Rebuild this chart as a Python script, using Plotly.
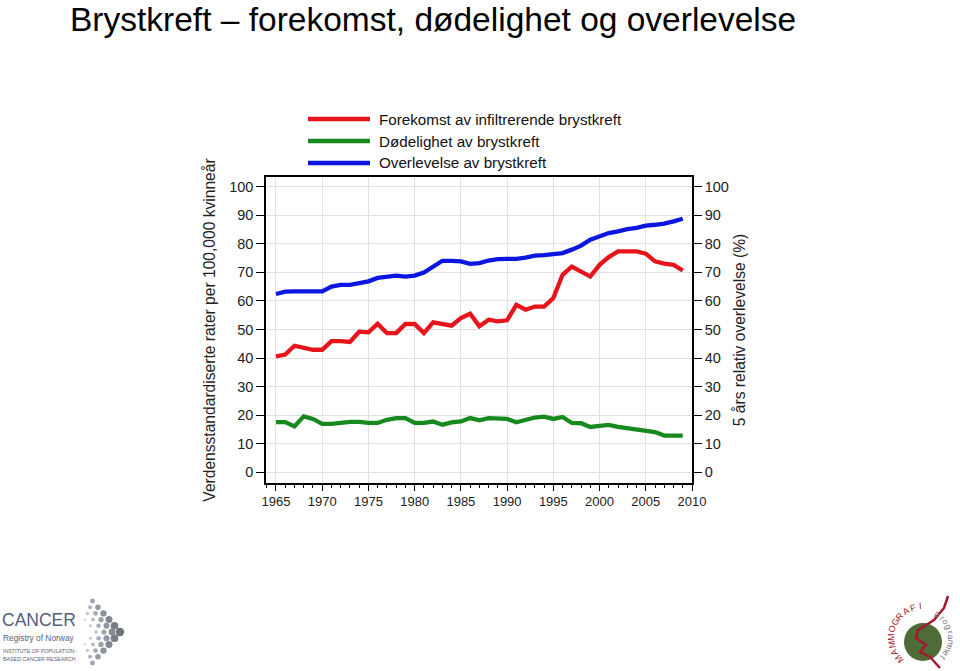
import math
import plotly.graph_objects as go

# ---------------- data ----------------
years = list(range(1965, 2010))

incidence = [40.6, 41.2, 44.3, 43.5, 42.9, 42.9, 45.9, 45.9, 45.6, 49.2,
             49.0, 52.0, 48.7, 48.7, 51.9, 51.9, 48.7, 52.5, 52.0, 51.3,
             54.0, 55.5, 51.1, 53.4, 52.8, 53.2, 58.6, 56.9, 58.0, 58.0,
             61.0, 69.1, 72.0, 70.3, 68.5, 72.6, 75.3, 77.3, 77.3, 77.3,
             76.5, 73.8, 73.0, 72.6, 70.6]

mortality = [17.6, 17.6, 16.1, 19.6, 18.7, 17.0, 17.0, 17.5, 17.7, 17.7,
             17.3, 17.3, 18.4, 19.0, 19.0, 17.3, 17.3, 17.8, 16.7, 17.5,
             17.8, 19.0, 18.2, 19.0, 18.7, 18.7, 17.5, 18.4, 19.2, 19.5,
             18.7, 19.4, 17.3, 17.2, 15.9, 16.3, 16.6, 15.9, 15.5, 15.2,
             14.5, 14.1, 12.9, 12.9, 12.9]

survival = [62.4, 63.2, 63.3, 63.3, 63.3, 63.3, 65.0, 65.6, 65.6, 66.2,
            66.8, 68.0, 68.3, 68.8, 68.5, 68.8, 69.9, 72.0, 74.0, 74.0,
            73.8, 72.9, 73.2, 74.1, 74.6, 74.7, 74.7, 75.1, 75.8, 76.0,
            76.5, 76.7, 77.9, 79.3, 81.4, 82.5, 83.7, 84.3, 85.1, 85.5,
            86.3, 86.6, 87.0, 87.8, 88.7]

series_names = ["Forekomst av infiltrerende brystkreft",
                "Dødelighet av brystkreft",
                "Overlevelse av brystkreft"]
series_colors = ["#e8141b", "#17891f", "#0b17e0"]

x_ticks = list(range(1965, 2011, 5))
y_ticks = list(range(0, 101, 10))

title_text = "Brystkreft – forekomst, dødelighet og overlevelse"
left_title = "Verdensstandardiserte rater per 100,000 kvinneår"
right_title = "5 års relativ overlevelse (%)"

# ---------------- geometry helpers ----------------
W, H = 960, 671
L, R, T, B = 266, 692, 177, 483  # plot area in pixels


def px(X):
    return (X - L) / (R - L)


def py(Y):
    return (B - Y) / (B - T)


FONT = "Liberation Sans, Arial, Helvetica, sans-serif"

fig = go.Figure()

fig.add_trace(go.Scatter(x=years, y=incidence, mode="lines", name=series_names[0],
                         line=dict(color=series_colors[0], width=4.3), yaxis="y"))
fig.add_trace(go.Scatter(x=years, y=mortality, mode="lines", name=series_names[1],
                         line=dict(color=series_colors[1], width=4.3), yaxis="y"))
fig.add_trace(go.Scatter(x=years, y=survival, mode="lines", name=series_names[2],
                         line=dict(color=series_colors[2], width=4.3), yaxis="y2"))

yrange = [-3.7, 103.3]
grid = "#e0e0e0"

fig.update_layout(
    width=W, height=H,
    margin=dict(l=L, r=W - R, t=T, b=H - B, pad=0),
    paper_bgcolor="white", plot_bgcolor="white",
    showlegend=False,
    font=dict(family=FONT, color="#222222"),
    xaxis=dict(range=[1963.92, 2010], tickmode="array", tickvals=x_ticks,
               ticks="outside", ticklen=6, tickwidth=1, tickcolor="black",
               showline=True, linecolor="black", linewidth=1.5, mirror=True,
               showgrid=True, gridcolor=grid, gridwidth=1, zeroline=False,
               tickfont=dict(size=13, color="#222"),
               minor=dict(tick0=1965, dtick=1, ticks="outside", ticklen=3,
                          tickcolor="black", showgrid=False)),
    yaxis=dict(range=yrange, tickmode="array", tickvals=y_ticks,
               ticks="outside", ticklen=8, tickcolor="black",
               showline=True, linecolor="black", linewidth=1.5,
               showgrid=True, gridcolor=grid, gridwidth=1, zeroline=False,
               tickfont=dict(size=14.5, color="#222"),
               title=dict(text=left_title, font=dict(size=15.6, color="#222"), standoff=10)),
    yaxis2=dict(range=yrange, overlaying="y", side="right", tickmode="array",
                tickvals=y_ticks, ticks="outside", ticklen=8, tickcolor="black",
                showline=True, linecolor="black", linewidth=1.5,
                showgrid=False, zeroline=False,
                tickfont=dict(size=14.5, color="#222"),
                title=dict(text=right_title, font=dict(size=15.6, color="#222"), standoff=6)),
)

shapes = []
annotations = []

# title
annotations.append(dict(text=title_text, xref="paper", yref="paper",
                        x=px(68), y=py(19), xanchor="left", yanchor="middle",
                        showarrow=False, font=dict(size=33.5, color="black", family=FONT)))

# legend (drawn manually to match the long line glyphs)
legend_rows = [119, 141, 163]
for name, col, yy in zip(series_names, series_colors, legend_rows):
    shapes.append(dict(type="line", xref="paper", yref="paper",
                       x0=px(308), x1=px(370), y0=py(yy), y1=py(yy),
                       line=dict(color=col, width=4.3)))
    annotations.append(dict(text=name, xref="paper", yref="paper",
                            x=px(377), y=py(yy), xanchor="left", yanchor="middle",
                            showarrow=False, font=dict(size=15.2, color="#111", family=FONT)))

# ---------------- logos (decorative) ----------------
logo_col = "#56607a"
annotations.append(dict(text="CANCER", xref="paper", yref="paper", x=px(0), y=py(620),
                        xanchor="left", yanchor="middle", showarrow=False,
                        font=dict(size=17.5, color=logo_col, family=FONT)))
annotations.append(dict(text="Registry of Norway", xref="paper", yref="paper", x=px(1), y=py(638),
                        xanchor="left", yanchor="middle", showarrow=False,
                        font=dict(size=8.4, color=logo_col, family=FONT)))
annotations.append(dict(text="INSTITUTE OF POPULATION-", xref="paper", yref="paper", x=px(1), y=py(651),
                        xanchor="left", yanchor="middle", showarrow=False,
                        font=dict(size=5.3, color=logo_col, family=FONT)))
annotations.append(dict(text="BASED CANCER RESEARCH", xref="paper", yref="paper", x=px(1), y=py(659),
                        xanchor="left", yanchor="middle", showarrow=False,
                        font=dict(size=5.3, color=logo_col, family=FONT)))

# dotted chevron
tip_x, tip_y = 120, 632
for c in range(4):
    for k in range(6 - c):
        for sgn in (-1, 1):
            if k == 0 and sgn == 1:
                continue
            cx = tip_x - 8 * c - 5.5 * k
            cy = tip_y + sgn * 6.2 * k
            r = max(1.0, 4.2 - 0.8 * c - 0.35 * k)
            g = int(110 + 25 * c + 10 * k)
            shapes.append(dict(type="circle", xref="paper", yref="paper",
                               x0=px(cx - r), x1=px(cx + r), y0=py(cy + r), y1=py(cy - r),
                               fillcolor=f"rgb({g},{g+4},{g+14})", line=dict(width=0)))

# mammografi logo
ccx, ccy, cr = 923, 642, 19
shapes.append(dict(type="circle", xref="paper", yref="paper",
                   x0=px(ccx - cr), x1=px(ccx + cr), y0=py(ccy + cr), y1=py(ccy - cr),
                   fillcolor="#4e6b38", line=dict(width=0)))
curve_pts = [(948, 596), (944, 608), (934, 620), (918, 630), (916, 638),
             (926, 645), (920, 652), (930, 657), (940, 668)]
path = "M " + " L ".join(f"{px(a):.5f},{py(b):.5f}" for a, b in curve_pts)
shapes.append(dict(type="path", xref="paper", yref="paper", path=path,
                   line=dict(color="#a3182d", width=2.5)))

arc_cx, arc_cy, arc_r = 923, 638, 32
word1 = "MAMMOGRAFI"
for i, ch in enumerate(word1):
    th = 220 - i * 14.0
    t = math.radians(th)
    lx = arc_cx + arc_r * math.cos(t)
    ly = arc_cy - arc_r * math.sin(t)
    annotations.append(dict(text=ch, xref="paper", yref="paper", x=px(lx), y=py(ly),
                            xanchor="center", yanchor="middle", showarrow=False,
                            textangle=90 - th, font=dict(size=9, color="#a3182d", family=FONT)))
word2 = "programmet"
for i, ch in enumerate(word2):
    th = 58 - i * 11.5
    t = math.radians(th)
    lx = arc_cx + (arc_r - 4) * math.cos(t)
    ly = arc_cy - (arc_r - 4) * math.sin(t)
    annotations.append(dict(text=ch, xref="paper", yref="paper", x=px(lx), y=py(ly),
                            xanchor="center", yanchor="middle", showarrow=False,
                            textangle=90 - th, font=dict(size=8.5, color="#777777", family=FONT)))

fig.update_layout(shapes=shapes, annotations=annotations)

fig.write_html("out.html")
